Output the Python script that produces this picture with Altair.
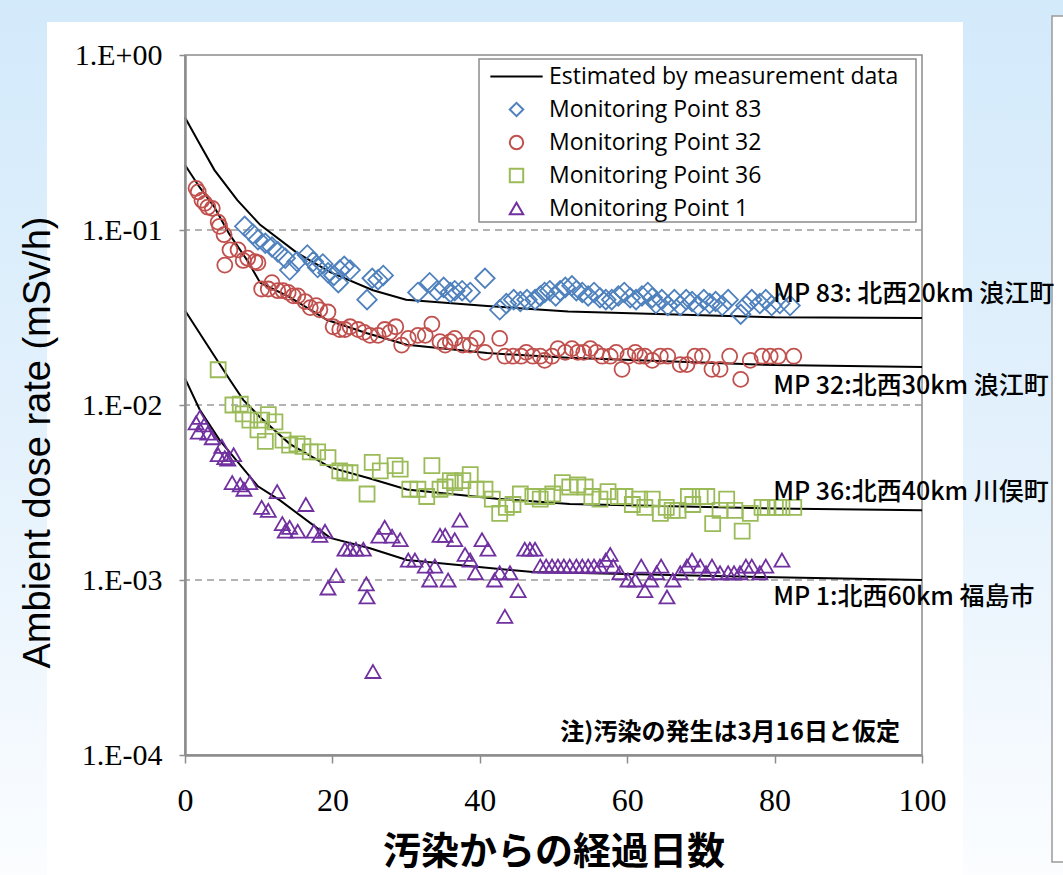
import altair as alt
import pandas as pd

# ---------------- data ----------------
days83 = [8.1, 9.2, 9.9, 10.9, 11.8, 12.6, 13.6, 14.2, 15.2, 16.6,
          17.4, 18.0, 18.7, 19.4, 20.2, 20.8, 21.0, 21.6, 22.4, 24.7,
          25.4, 26.2, 26.9, 31.6, 33.2, 34.2, 35.1, 36.0, 36.6, 37.6,
          38.7, 40.7, 42.7, 43.6, 44.6, 45.5, 46.4, 47.5, 48.2, 48.8,
          49.5, 50.3, 50.9, 51.6, 52.5, 53.1, 53.9, 54.7, 55.5, 56.3,
          57.1, 57.9, 58.8, 59.6, 60.4, 61.2, 62.0, 62.8, 63.4, 63.9,
          64.7, 65.5, 66.4, 67.2, 68.0, 68.8, 69.6, 70.4, 71.2, 72.0,
          72.9, 73.7, 75.4, 76.1, 76.9, 78.0, 78.8, 79.6, 80.7, 82.1]
vals83 = [0.105, 0.095, 0.088, 0.084, 0.080, 0.075, 0.069, 0.059, 0.066, 0.072,
          0.066, 0.061, 0.064, 0.057, 0.055, 0.050, 0.059, 0.062, 0.059, 0.040,
          0.053, 0.052, 0.055, 0.044, 0.050, 0.045, 0.047, 0.044, 0.045, 0.045,
          0.044, 0.053, 0.035, 0.038, 0.040, 0.039, 0.040, 0.040, 0.042, 0.044,
          0.045, 0.042, 0.045, 0.047, 0.048, 0.045, 0.044, 0.042, 0.044, 0.041,
          0.040, 0.040, 0.042, 0.044, 0.041, 0.040, 0.042, 0.044, 0.041, 0.038,
          0.040, 0.037, 0.040, 0.037, 0.040, 0.039, 0.037, 0.040, 0.038, 0.039,
          0.037, 0.040, 0.033, 0.037, 0.040, 0.038, 0.040, 0.037, 0.038, 0.037]

days32 = [1.5, 1.8, 2.3, 2.7, 3.1, 3.7, 4.5, 4.7, 5.3, 5.4,
          6.1, 7.2, 7.9, 8.5, 9.5, 9.9, 10.4, 11.3, 11.8, 12.6,
          13.3, 14.0, 14.7, 15.3, 16.3, 17.0, 17.8, 18.3, 19.4, 20.1,
          21.0, 21.7, 22.4, 23.5, 24.3, 25.1, 26.2, 27.1, 27.8, 28.6,
          29.4, 30.3, 31.6, 32.6, 33.5, 34.6, 35.3, 36.0, 36.6, 37.7,
          38.7, 39.6, 40.7, 42.7, 43.4, 44.5, 45.6, 46.3, 47.2, 48.2,
          48.8, 49.8, 50.6, 51.6, 52.5, 53.3, 54.1, 55.0, 55.8, 56.6,
          57.7, 58.5, 59.3, 60.1, 61.1, 61.7, 62.4, 63.4, 64.5, 65.5,
          67.2, 68.1, 69.2, 70.2, 71.5, 72.6, 73.9, 75.4, 76.7, 78.3,
          79.4, 80.5, 82.6]
vals32 = [0.173, 0.165, 0.148, 0.142, 0.135, 0.133, 0.111, 0.105, 0.094, 0.063,
          0.077, 0.077, 0.067, 0.069, 0.066, 0.065, 0.046, 0.046, 0.050, 0.045,
          0.045, 0.044, 0.042, 0.042, 0.039, 0.036, 0.037, 0.035, 0.034, 0.028,
          0.027, 0.027, 0.028, 0.027, 0.026, 0.025, 0.025, 0.027, 0.026, 0.028,
          0.022, 0.024, 0.025, 0.025, 0.029, 0.023, 0.022, 0.023, 0.024, 0.022,
          0.022, 0.024, 0.020, 0.024, 0.019, 0.019, 0.019, 0.020, 0.019, 0.019,
          0.018, 0.019, 0.021, 0.020, 0.021, 0.020, 0.020, 0.021, 0.020, 0.019,
          0.019, 0.020, 0.016, 0.019, 0.020, 0.019, 0.019, 0.018, 0.019, 0.019,
          0.017, 0.017, 0.019, 0.019, 0.016, 0.016, 0.019, 0.014, 0.018, 0.019,
          0.019, 0.019, 0.019]

days36 = [4.5, 6.5, 7.5, 7.9, 8.8, 9.9, 10.4, 10.9, 11.3, 12.2,
          13.3, 14.2, 15.2, 16.0, 17.0, 18.0, 19.4, 21.0, 21.7, 22.4,
          24.7, 25.4, 26.5, 28.5, 29.2, 30.5, 31.6, 32.8, 33.5, 34.6,
          35.3, 36.0, 36.6, 37.7, 38.7, 39.5, 40.7, 41.7, 42.7, 43.6,
          44.5, 45.5, 47.2, 48.2, 49.1, 49.9, 51.2, 52.2, 53.3, 54.3,
          55.2, 56.3, 57.4, 58.8, 59.7, 60.7, 61.7, 62.4, 63.4, 64.5,
          65.3, 66.1, 66.9, 68.3, 68.9, 69.9, 70.8, 71.6, 72.6, 73.5,
          74.6, 75.6, 76.7, 78.3, 79.1, 80.1, 81.0, 82.6]
vals36 = [0.0159, 0.0100, 0.0101, 0.0089, 0.0082, 0.0072, 0.0082, 0.0062, 0.0088, 0.0080,
          0.0063, 0.0059, 0.0060, 0.0058, 0.0054, 0.0054, 0.0050, 0.0042, 0.0041, 0.0041,
          0.0031, 0.0047, 0.0042, 0.0045, 0.0043, 0.0033, 0.0033, 0.0030, 0.0045, 0.0033,
          0.0034, 0.0037, 0.0036, 0.0037, 0.0040, 0.0033, 0.0033, 0.0029, 0.0024, 0.0026,
          0.0027, 0.0031, 0.0030, 0.0029, 0.0030, 0.0031, 0.0036, 0.0034, 0.0035, 0.0034,
          0.0030, 0.0029, 0.0032, 0.0030, 0.0030, 0.0027, 0.0029, 0.0026, 0.0029, 0.0024,
          0.0026, 0.0025, 0.0025, 0.0030, 0.0027, 0.0030, 0.0030, 0.0021, 0.0025, 0.0029,
          0.0025, 0.0019, 0.0024, 0.0026, 0.0026, 0.0026, 0.0026, 0.0026]

days1 = [1.5, 1.8, 2.0, 2.6, 3.1, 3.7, 4.5, 5.0, 5.4, 5.8,
         6.4, 6.6, 7.5, 8.0, 8.8, 10.4, 11.3, 12.5, 13.2, 13.6,
         14.2, 15.3, 16.4, 17.5, 18.3, 19.0, 19.4, 20.5, 21.7, 22.4,
         23.2, 24.2, 24.6, 24.7, 25.5, 26.3, 27.1, 28.1, 29.2, 30.3,
         31.2, 32.6, 33.2, 33.9, 34.6, 35.3, 35.7, 36.6, 37.3, 38.0,
         38.7, 39.4, 40.3, 41.1, 42.0, 42.7, 43.4, 44.1, 45.2, 46.1,
         46.8, 47.5, 48.2, 49.0, 49.8, 50.6, 51.4, 52.2, 53.1, 53.9,
         54.7, 55.5, 56.3, 57.1, 57.7, 58.1, 59.0, 60.1, 61.1, 61.9,
         62.4, 63.2, 64.0, 64.6, 65.4, 66.2, 67.2, 68.1, 68.8, 69.9,
         70.7, 71.5, 72.6, 73.7, 74.5, 75.3, 76.1, 76.9, 78.0, 78.8,
         81.0]
vals1 = [0.0079, 0.0070, 0.0085, 0.0077, 0.0069, 0.0065, 0.0052, 0.0058, 0.0050, 0.0049,
         0.0036, 0.0052, 0.0035, 0.0033, 0.0036, 0.0026, 0.0025, 0.0032, 0.0021, 0.0019,
         0.0020, 0.0019, 0.0027, 0.0019, 0.0018, 0.0019, 0.00090, 0.00106, 0.0015, 0.0015,
         0.0015, 0.0015, 0.00095, 0.00080, 0.00030, 0.00178, 0.0020, 0.00178, 0.0017, 0.0013,
         0.0013, 0.0012, 0.0010, 0.0012, 0.0018, 0.0018, 0.0010, 0.0017, 0.0022, 0.0014,
         0.0013, 0.0011, 0.0017, 0.0015, 0.0010, 0.0011, 0.00062, 0.0011, 0.00087, 0.0015,
         0.0015, 0.0015, 0.0012, 0.0012, 0.0012, 0.0012, 0.0012, 0.0012, 0.0012, 0.0012,
         0.0012, 0.0012, 0.0012, 0.0013, 0.0014, 0.0012, 0.0011, 0.0010, 0.0010, 0.0012,
         0.00087, 0.0010, 0.0011, 0.0012, 0.00080, 0.0010, 0.0011, 0.0012, 0.0013, 0.0012,
         0.0011, 0.0012, 0.0011, 0.0011, 0.0011, 0.0011, 0.0012, 0.0012, 0.0011, 0.0012,
         0.0013]

# estimated curves (polyline vertices)
line83_days = [0, 2, 4, 7.1, 10.2, 15.2, 19.7, 25.5, 30, 41, 52, 80, 100]
line83_vals = [0.44, 0.31, 0.22, 0.148, 0.107, 0.074, 0.0575, 0.0453, 0.040, 0.0368, 0.0342, 0.0317, 0.0314]
line32_days = [0, 2, 4, 6, 8.4, 10.2, 14.2, 19.3, 24.7, 30.1, 41, 52, 80, 100]
line32_vals = [0.235, 0.175, 0.135, 0.095, 0.0675, 0.050, 0.0413, 0.0306, 0.0257, 0.0221, 0.0198, 0.0186, 0.0169, 0.0165]
line36_days = [0, 3, 6.1, 7.9, 10.2, 14.2, 19.7, 25.1, 30.1, 42.3, 52.2, 80, 100]
line36_vals = [0.0347, 0.0221, 0.0139, 0.0107, 0.0085, 0.0060, 0.0044, 0.0038, 0.00329, 0.00291, 0.00272, 0.00256, 0.0025]
line1_days = [0, 2, 4.7, 9.9, 12.9, 19.7, 25.1, 30.1, 47.2, 52.2, 78, 100]
line1_vals = [0.0142, 0.0094, 0.0063, 0.00343, 0.00285, 0.00174, 0.00152, 0.0013, 0.00111, 0.0011, 0.00104, 0.0010]

series_names = ["Estimated by measurement data", "Monitoring Point 83",
                "Monitoring Point 32", "Monitoring Point 36", "Monitoring Point 1"]
series_colors = ["#000000", "#4f81bd", "#c0504d", "#9bbb59", "#7030a0"]
series_shapes = ["M-3.9,0H3.9", "diamond", "circle", "square", "triangle-up"]

ann_labels = ["MP 83: 北西20km 浪江町", "MP 32:北西30km 浪江町",
              "MP 36:北西40km 川俣町", "MP 1:北西60km 福島市"]
ann_days = [79.8, 79.8, 79.8, 79.8]
ann_vals = [0.0433, 0.0128, 0.00318, 0.00080]

note_label = ["注)汚染の発生は3月16日と仮定"]
note_day = [97.0]
note_val = [0.000134]

grid_vals = [0.1, 0.01, 0.001]
x_ticks = [0, 20, 40, 60, 80, 100]
y_ticks = [1, 0.1, 0.01, 0.001, 0.0001]

# ---------------- chart ----------------
W, H = 737, 700
GRAY = "#8c8c8c"

xscale = alt.Scale(domain=[0, 100], nice=False, zero=False)
yscale = alt.Scale(type="log", domain=[0.0001, 1], nice=False)
cscale = alt.Scale(domain=series_names, range=series_colors)
sscale = alt.Scale(domain=series_names, range=series_shapes)

legend = alt.Legend(title=None, orient="none", legendX=320, legendY=10,
                    labelFont="Open Sans", labelFontSize=23, labelColor="black",
                    symbolSize=180, symbolStrokeWidth=2, rowPadding=9,
                    labelOffset=21, padding=0, zindex=1, labelLimit=500)

x_axis = alt.Axis(values=x_ticks, title="汚染からの経過日数", titleFont="Noto Sans CJK JP",
                  titleFontSize=38, titleFontWeight="bold", titleColor="black",
                  titleY=97, titleBaseline="middle",
                  labelFont="Liberation Serif", labelFontSize=32, labelColor="black",
                  labelPadding=22, tickSize=8, tickColor=GRAY, tickWidth=1.5,
                  domainColor=GRAY, domainWidth=2.5, grid=False, zindex=1,
                  labelFlush=False, labelOverlap=False)
y_axis = alt.Axis(values=y_ticks,
                  labelExpr="datum.value >= 1 ? '1.E+00' : '1.E-0' + round(-log(datum.value)/LN10)",
                  title="Ambient dose rate (mSv/h)", titleFont="Liberation Sans",
                  titleFontSize=38, titleFontWeight="normal", titleColor="black",
                  titleX=-147, titleY=387, titleAngle=270, titleAlign="center",
                  titleBaseline="middle",
                  labelFont="Liberation Serif", labelFontSize=30, labelColor="black",
                  labelPadding=17, tickSize=6, tickColor=GRAY, tickWidth=1.5,
                  domainColor=GRAY, domainWidth=2.5, grid=False, zindex=1,
                  labelFlush=False, labelOverlap=False)


def X(field):
    return alt.X(field, scale=xscale, axis=x_axis)


def Y(field):
    return alt.Y(field, scale=yscale, axis=y_axis)


one = pd.DataFrame({"k": [0]})


def deco_rect(x, x2, y, y2, **kw):
    return alt.Chart(one).mark_rect(**kw).encode(
        x=alt.value(x), x2=alt.value(x2), y=alt.value(y), y2=alt.value(y2))


bg = deco_rect(-185, 878, -55, 820,
               color=alt.LinearGradient(gradient="linear",
                                        stops=[alt.GradientStop(color="#d3eafb", offset=0),
                                               alt.GradientStop(color="#e3f1fc", offset=0.5),
                                               alt.GradientStop(color="#fbfdff", offset=1)],
                                        x1=0, x2=0, y1=0, y2=1))
panel = deco_rect(47 - 185, 963 - 185, 22 - 55, 875 - 55, color="#ffffff")
rbox = deco_rect(1052 - 185, 1075 - 185, 16 - 55, 862 - 55, fill="#ffffff",
                 stroke="#9a9a9a", strokeWidth=1.5)
lbox = deco_rect(479 - 185, 916 - 185, 59 - 55, 222 - 55, fill="#ffffff",
                 stroke=GRAY, strokeWidth=1.5)
frame = deco_rect(0, W, 0, H, fillOpacity=0, stroke=GRAY, strokeWidth=1.5)

grid = alt.Chart(pd.DataFrame({"v": grid_vals})).mark_rule(
    color="#9a9a9a", strokeWidth=1.5, strokeDash=[7, 5]).encode(y=Y("v:Q"))

# curves
rows = []
for name, ds, vs in [("MP83", line83_days, line83_vals), ("MP32", line32_days, line32_vals),
                     ("MP36", line36_days, line36_vals), ("MP1", line1_days, line1_vals)]:
    for d, v in zip(ds, vs):
        rows.append({"day": d, "val": v, "curve": name, "series": series_names[0]})
lines_df = pd.DataFrame(rows)

lines = alt.Chart(lines_df).mark_line(strokeWidth=2).encode(
    x=X("day:Q"), y=Y("val:Q"),
    detail="curve:N",
    color=alt.Color("series:N", scale=cscale, legend=legend),
)


def points(ds, vs, name, size):
    df = pd.DataFrame({"day": ds, "val": vs, "series": name})
    return alt.Chart(df).mark_point(filled=False, size=size, strokeWidth=1.8, opacity=1).encode(
        x=X("day:Q"), y=Y("val:Q"),
        color=alt.Color("series:N", scale=cscale, legend=legend),
        shape=alt.Shape("series:N", scale=sscale, legend=legend),
    )


p83 = points(days83, vals83, series_names[1], 380)
p32 = points(days32, vals32, series_names[2], 225)
p36 = points(days36, vals36, series_names[3], 225)
p1 = points(days1, vals1, series_names[4], 225)

ann = alt.Chart(pd.DataFrame({"day": ann_days, "val": ann_vals, "label": ann_labels})).mark_text(
    align="left", baseline="middle", font="Noto Sans CJK JP", fontSize=25,
    fontWeight=500, color="black").encode(
    x=X("day:Q"), y=Y("val:Q"), text="label:N")

note = alt.Chart(pd.DataFrame({"day": note_day, "val": note_val, "label": note_label})).mark_text(
    align="right", baseline="middle", font="Noto Sans CJK JP", fontSize=24,
    fontWeight="bold", color="black").encode(
    x=X("day:Q"), y=Y("val:Q"), text="label:N")

chart = alt.layer(bg, panel, rbox, lbox, frame, grid, lines, p83, p32, p36, p1, ann, note).properties(
    width=W, height=H,
    autosize=alt.AutoSizeParams(type="none"),
    padding={"left": 185, "top": 55, "right": 141, "bottom": 120},
).configure(background="#ffffff").configure_view(strokeWidth=0)

chart.save("out.html", embed_options={"renderer": "svg", "actions": False})
